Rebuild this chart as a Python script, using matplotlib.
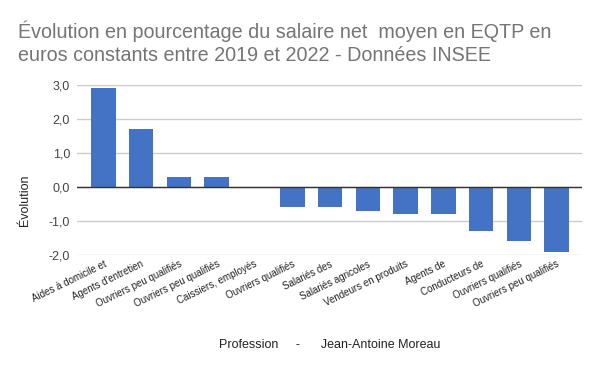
import matplotlib
matplotlib.use("Agg")
import matplotlib.pyplot as plt

plt.rcParams['font.family'] = ['Liberation Sans', 'DejaVu Sans']

professions = [
	"Aides à domicile et",
	"Agents d'entretien",
	"Ouvriers peu qualifiés",
	"Ouvriers peu qualifiés",
	"Caissiers, employés",
	"Ouvriers qualifiés",
	"Salariés des",
	"Salariés agricoles",
	"Vendeurs en produits",
	"Agents de",
	"Conducteurs de",
	"Ouvriers qualifiés",
	"Ouvriers peu qualifiés",
]
evolution = [2.9, 1.7, 0.3, 0.3, 0.0, -0.6, -0.6, -0.7, -0.8, -0.8, -1.3, -1.6, -1.9]
yticks = [-2, -1, 0, 1, 2, 3]
ytick_labels = ["-2,0", "-1,0", "0,0", "1,0", "2,0", "3,0"]

fig = plt.figure(figsize=(6, 3.71), dpi=100)
ax = fig.add_axes([77 / 600, 1 - 255 / 371, 505 / 600, 170 / 371])

x = range(len(professions))
ax.bar(x, evolution, width=0.65, color="#4472c4", zorder=3)
ax.axhline(0, color="#333333", linewidth=1, zorder=4)

ax.set_ylim(-2, 3)
ax.set_xlim(-0.7, len(professions) - 1 + 0.67)
ax.set_yticks(yticks)
ax.set_yticklabels(ytick_labels, fontsize=9, color="#444444")
ax.grid(axis="y", color="#cccccc", linewidth=1, zorder=0)
ax.tick_params(axis="y", length=0, pad=5)
ax.tick_params(axis="x", length=0, pad=3)
ax.set_xticks(list(x))
ax.set_xticklabels(professions, rotation=26, ha="right", rotation_mode="anchor",
	fontsize=7, color="#222222")
for s in ax.spines.values():
	s.set_visible(False)

fig.text(25 / 600, 1 - 200 / 371, "Évolution", rotation=90, ha="center", va="center",
	fontsize=9, color="#222222")
fig.text(330 / 600, 1 - 345 / 371, "Profession     -      Jean-Antoine Moreau",
	ha="center", va="center", fontsize=9, color="#222222")
fig.text(18 / 600, 1 - 21 / 371,
	"Évolution en pourcentage du salaire net  moyen en EQTP en\neuros constants entre 2019 et 2022 - Données INSEE",
	ha="left", va="top", fontsize=14.2, color="#757575", linespacing=1.25)

fig.savefig("out.png", dpi=100)
